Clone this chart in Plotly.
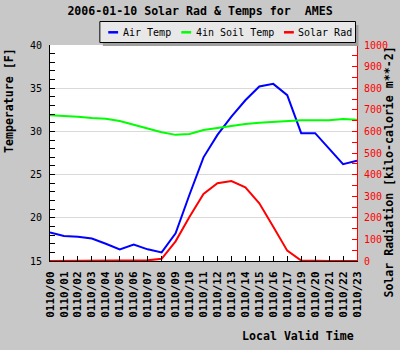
import plotly.graph_objects as go

# ---- data ----
hours = ["0110/00", "0110/01", "0110/02", "0110/03", "0110/04", "0110/05",
         "0110/06", "0110/07", "0110/08", "0110/09", "0110/10", "0110/11",
         "0110/12", "0110/13", "0110/14", "0110/15", "0110/16", "0110/17",
         "0110/19", "0110/20", "0110/21", "0110/22", "0110/23"]
air_temp = [18.3, 17.9, 17.8, 17.6, 17.0, 16.35, 16.9, 16.35, 16.0, 18.2,
            22.7, 27.0, 29.6, 31.7, 33.6, 35.2, 35.5, 34.2, 29.8, 29.8,
            28.0, 26.2, 26.6]
soil_temp = [31.86, 31.8, 31.7, 31.55, 31.45, 31.2, 30.75, 30.3, 29.9, 29.6,
             29.7, 30.16, 30.4, 30.6, 30.86, 31.0, 31.1, 31.25, 31.3, 31.3,
             31.3, 31.43, 31.35]
solar_rad = [0, 0, 0, 0, 0, 0, 0, 3, 10, 91, 205, 310, 360, 370, 341, 267,
             159, 48, 2, 0, 0, 0, 0]
series_names = ["Air Temp", "4in Soil Temp", "Solar Rad"]
series_colors = ["#0000ff", "#00ff00", "#ff0000"]

title_text = "2006-01-10 Solar Rad & Temps for  AMES"
left_title = "Temperature [F]"
right_title = "Solar Radiation [kilo-calorie m**-2]"
x_title = "Local Valid Time"

# ---- layout geometry (pixels) ----
W, H = 400, 350
L, R, T, B = 50, 39, 45, 89
PW = W - L - R
PH = H - T - B


def px(x):
    return (x - L) / PW


def py(y):
    return (H - B - y) / PH


MONO = "DejaVu Sans Mono"
BG = "#c8c8c8"

fig = go.Figure()
fig.add_trace(go.Scatter(x=hours, y=air_temp, mode="lines", name=series_names[0],
                         line=dict(color=series_colors[0], width=2), yaxis="y"))
fig.add_trace(go.Scatter(x=hours, y=soil_temp, mode="lines", name=series_names[1],
                         line=dict(color=series_colors[1], width=2), yaxis="y"))
fig.add_trace(go.Scatter(x=hours, y=solar_rad, mode="lines", name=series_names[2],
                         line=dict(color=series_colors[2], width=2), yaxis="y2",
                         cliponaxis=False))

fig.update_layout(
    width=W, height=H, autosize=False,
    margin=dict(l=L, r=R, t=T, b=B, pad=0),
    paper_bgcolor=BG, plot_bgcolor="white",
    showlegend=False,
    font=dict(family=MONO, size=10, color="black"),
    title=dict(text=title_text, x=0.5, xref="container", xanchor="center",
               y=1 - 11 / H, yref="container", yanchor="middle",
               font=dict(family=MONO, size=11.6, weight="bold", color="black")),
    xaxis=dict(type="category", range=[0, len(hours) - 1],
               showline=True, linecolor="black", linewidth=1,
               ticks="inside", ticklen=5, tickcolor="black",
               tickangle=-90, ticklabelstandoff=5,
               tickfont=dict(family=MONO, size=11, weight="bold"),
               showgrid=False, zeroline=False, mirror=False),
    yaxis=dict(range=[15, 40], dtick=5, tick0=15,
               showline=True, linecolor="black", linewidth=1,
               ticks="inside", ticklen=5, tickcolor="black",
               ticklabelstandoff=5,
               minor=dict(ticks="inside", ticklen=5, dtick=1, tickcolor="black",
                          showgrid=False),
               showgrid=True, gridcolor="#d9d9d9", gridwidth=1,
               zeroline=False, tickfont=dict(family=MONO, size=10)),
    yaxis2=dict(range=[0, 1000], dtick=100, tick0=0, overlaying="y", side="right",
                showline=True, linecolor="#ff0000", linewidth=1,
                ticks="inside", ticklen=5, tickcolor="#ff0000",
                ticklabelstandoff=4,
                minor=dict(ticks="inside", ticklen=5, dtick=50, tickcolor="#ff0000",
                           showgrid=False),
                showgrid=False, zeroline=False,
                tickfont=dict(family=MONO, size=10, color="#ff0000")),
)

shapes = []
annotations = []

# custom legend box with shadow
shapes.append(dict(type="rect", xref="paper", yref="paper",
                   x0=px(103.5), x1=px(362.5), y0=py(25), y1=py(46),
                   fillcolor="#a0a0a0", line=dict(width=0), layer="above"))
shapes.append(dict(type="rect", xref="paper", yref="paper",
                   x0=px(100.5), x1=px(359.5), y0=py(21.5), y1=py(42.5),
                   fillcolor="#e8e8e8", line=dict(color="black", width=1), layer="above"))

item_line_x = [109, 183, 287]
item_text_x = [121.5, 195.5, 299.5]
for name, color, lx, tx in zip(series_names, series_colors, item_line_x, item_text_x):
    shapes.append(dict(type="line", xref="paper", yref="paper",
                       x0=px(lx), x1=px(lx + 10), y0=py(32.3), y1=py(32.3),
                       line=dict(color=color, width=2.5), layer="above"))
    annotations.append(dict(text=name, xref="paper", yref="paper",
                            x=px(tx), y=py(32.5), xanchor="left", yanchor="middle",
                            showarrow=False,
                            font=dict(family=MONO, size=10, color="black")))

# axis titles
annotations.append(dict(text=left_title, xref="paper", yref="paper",
                        x=px(8), y=py(46), xanchor="center", yanchor="top",
                        textangle=-90, showarrow=False,
                        font=dict(family=MONO, size=11.6, weight="bold")))
annotations.append(dict(text=right_title, xref="paper", yref="paper",
                        x=px(392.5), y=py(45), xanchor="center", yanchor="top",
                        textangle=-90, showarrow=False,
                        font=dict(family=MONO, size=11.6, weight="bold")))
annotations.append(dict(text=x_title, xref="paper", yref="paper",
                        x=px(360), y=py(336), xanchor="right", yanchor="middle",
                        showarrow=False,
                        font=dict(family=MONO, size=11.6, weight="bold")))

fig.update_layout(shapes=shapes, annotations=annotations)

fig.write_html("out.html")
